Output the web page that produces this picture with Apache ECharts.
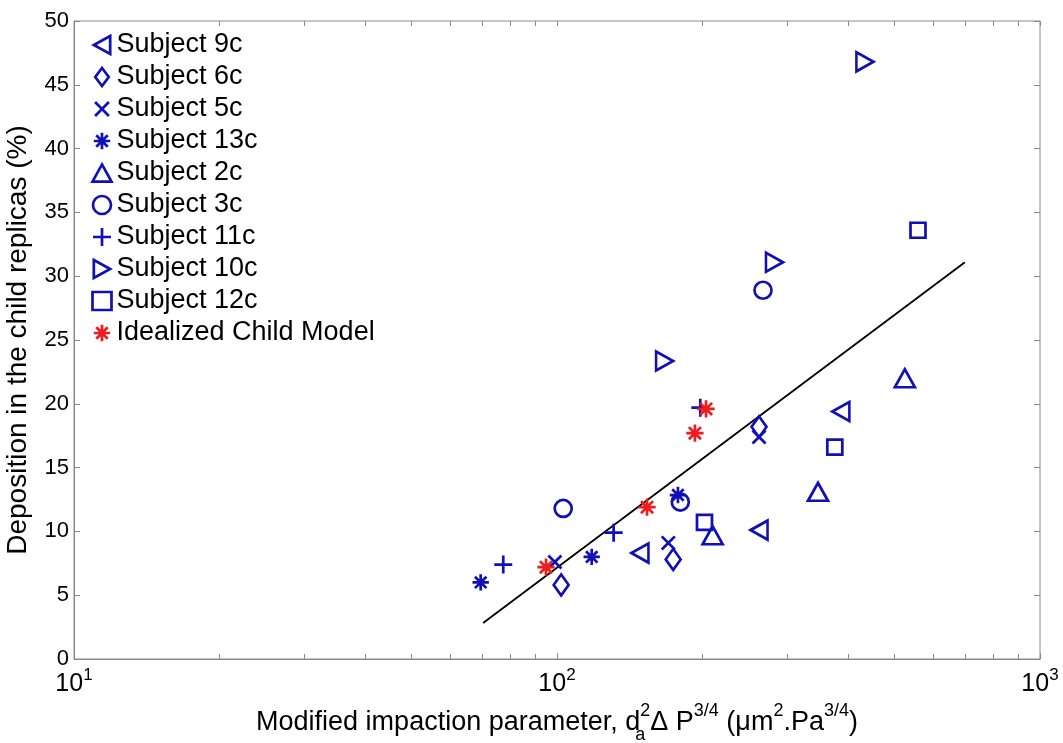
<!DOCTYPE html>
<html>
<head>
<meta charset="utf-8">
<script src="https://cdn.jsdelivr.net/npm/echarts@6/dist/echarts.min.js"></script>
<style>
html,body{margin:0;padding:0;background:#fff;}
#chart{width:1063px;height:743px;}
</style>
</head>
<body>
<div id="chart"></div>
<script>
// ---- data ----
const seriesNames = ['Subject 9c','Subject 6c','Subject 5c','Subject 13c','Subject 2c','Subject 3c','Subject 11c','Subject 10c','Subject 12c','Idealized Child Model'];
const subj9cX = [148.5, 262, 387];   const subj9cY = [8.3, 10.1, 19.4];
const subj6cX = [102, 174, 262];     const subj6cY = [5.8, 7.8, 18.2];
const subj5cX = [99, 170, 262];      const subj5cY = [7.6, 9.1, 17.4];
const subj13cX = [69.5, 118, 178];   const subj13cY = [6.0, 8.0, 12.85];
const subj2cX = [210, 347, 525];     const subj2cY = [9.7, 13.1, 22.0];
const subj3cX = [103, 180, 267];     const subj3cY = [11.8, 12.3, 28.9];
const subj11cX = [77.4, 131, 198];   const subj11cY = [7.4, 9.9, 19.7];
const subj10cX = [167, 282, 434];    const subj10cY = [23.35, 31.1, 46.8];
const subj12cX = [202, 376, 559];    const subj12cY = [10.7, 16.6, 33.6];
const idealX = [94.9, 153.6, 193, 203.5]; const idealY = [7.2, 11.9, 17.7, 19.6];
const fitX = [70.3, 699];            const fitY = [2.82, 31.1];
const xTickValues = [10, 100, 1000];
const xTickExponents = ['1', '2', '3'];
const yTickLabels = ['0','5','10','15','20','25','30','35','40','45','50'];

const pairs = (xs, ys) => xs.map((x, i) => [x, ys[i]]);

const BLUE = '#1010b4';
const RED = '#ee1c1c';
const FONT = '"Liberation Sans", Arial, sans-serif';

const sym = {
  left: 'path://M10,0 L0,5.5 L10,11 Z',
  right: 'path://M0,0 L10,5.5 L0,11 Z',
  up: 'path://M5,0 L10,9 L0,9 Z',
  diamond: 'path://M6,0 L12,8 L6,16 L0,8 Z',
  cross: 'path://M-1.5,-1.5 M0,0 L10,10 M10,0 L0,10 M11.5,11.5',
  star: 'path://M-0.5,-0.5 M5,0 L5,10 M0,5 L10,5 M1.5,1.5 L8.5,8.5 M8.5,1.5 L1.5,8.5 M10.5,10.5',
  plus: 'path://M5,0 L5,10 M0,5 L10,5',
  circle: 'circle',
  square: 'rect'
};

const specs = [
  [subj9cX, subj9cY, sym.left, [17, 19], BLUE],
  [subj6cX, subj6cY, sym.diamond, [15, 21], BLUE],
  [subj5cX, subj5cY, sym.cross, [17, 17], BLUE],
  [subj13cX, subj13cY, sym.star, [18, 18], BLUE],
  [subj2cX, subj2cY, sym.up, [20, 18], BLUE],
  [subj3cX, subj3cY, sym.circle, [17, 17], BLUE],
  [subj11cX, subj11cY, sym.plus, [18, 18], BLUE],
  [subj10cX, subj10cY, sym.right, [17, 19], BLUE],
  [subj12cX, subj12cY, sym.square, [15, 15], BLUE],
  [idealX, idealY, sym.star, [19, 19], RED]
];

const minorTicks = [];
for (let d = 10; d < 1000; d *= 10) for (let k = 2; k <= 9; k++) minorTicks.push(d * k);

const series = specs.map((s, i) => ({
  name: seriesNames[i],
  type: 'scatter',
  data: pairs(s[0], s[1]),
  symbol: s[2],
  symbolSize: s[3],
  itemStyle: { color: 'none', borderColor: s[4], borderWidth: 2.7, opacity: 1 },
  emphasis: { disabled: true },
  z: 3
}));
series.push({
  name: 'fit',
  type: 'line',
  data: pairs(fitX, fitY),
  symbol: 'none',
  lineStyle: { color: '#000', width: 1.8 },
  emphasis: { disabled: true },
  z: 2
});

const chart = echarts.init(document.getElementById('chart'), null, { renderer: 'canvas' });
chart.setOption({
  animation: false,
  backgroundColor: '#fff',
  textStyle: { fontFamily: FONT },
  grid: { left: 74, right: 23, top: 21, bottom: 84, show: true, borderColor: '#8a8a8a', borderWidth: 1, containLabel: false, outerBoundsMode: 'none' },
  legend: {
    data: seriesNames,
    orient: 'vertical',
    left: 85,
    top: 26,
    itemWidth: 19,
    itemHeight: 18,
    itemGap: 4,
    textStyle: { fontFamily: FONT, fontSize: 27, color: '#000', lineHeight: 28 },
    itemStyle: { borderWidth: 'inherit' },
    selectedMode: false
  },
  xAxis: [
    {
      type: 'log', logBase: 10, min: 10, max: 1000,
      position: 'bottom',
      axisLine: { show: true, lineStyle: { color: '#8a8a8a', width: 1 } },
      axisTick: { show: true, inside: true, length: 6, lineStyle: { color: '#8a8a8a' } },
      splitLine: { show: false },
      axisLabel: {
        margin: 8,
        formatter: v => {
          const i = xTickValues.indexOf(Math.round(v));
          return i < 0 ? '' : '{b|10}{s|' + xTickExponents[i] + '}';
        },
        rich: {
          b: { fontFamily: FONT, fontSize: 25, color: '#000', lineHeight: 30, verticalAlign: 'bottom' },
          s: { fontFamily: FONT, fontSize: 17, color: '#000', lineHeight: 30, verticalAlign: 'top' }
        }
      },
      name: '{t|Modified impaction parameter, d}{sub|a}{sup|2}{t|Δ P}{sup|3/4}{t| (μm}{sup|2}{t|.Pa}{sup|3/4}{t|)}',
      nameLocation: 'middle',
      nameGap: 35,
      nameTextStyle: {
        rich: {
          t: { fontFamily: FONT, fontSize: 27, color: '#000', lineHeight: 42, verticalAlign: 'middle' },
          sup: { fontFamily: FONT, fontSize: 18, color: '#000', lineHeight: 42, verticalAlign: 'top' },
          sub: { fontFamily: FONT, fontSize: 18, color: '#000', lineHeight: 42, verticalAlign: 'bottom', width: 0 }
        }
      }
    },
    {
      type: 'log', logBase: 10, min: 10, max: 1000,
      position: 'bottom',
      axisLine: { show: false },
      axisTick: { show: true, inside: true, length: 5, customValues: minorTicks, lineStyle: { color: '#8a8a8a' } },
      axisLabel: { show: false },
      splitLine: { show: false }
    },
    {
      type: 'log', logBase: 10, min: 10, max: 1000,
      position: 'top',
      axisLine: { show: false },
      axisTick: { show: true, inside: true, length: 5, customValues: minorTicks.concat(xTickValues), lineStyle: { color: '#8a8a8a' } },
      axisLabel: { show: false },
      splitLine: { show: false }
    }
  ],
  yAxis: [
    {
      type: 'value', min: 0, max: 50, interval: 5,
      position: 'left',
      axisLine: { show: true, lineStyle: { color: '#8a8a8a', width: 1 } },
      axisTick: { show: true, inside: true, length: 6, lineStyle: { color: '#8a8a8a' } },
      splitLine: { show: false },
      axisLabel: {
        margin: 5,
        fontFamily: FONT, fontSize: 22, color: '#000',
        formatter: v => yTickLabels[Math.round(v / 5)]
      },
      name: 'Deposition in the child replicas (%)',
      nameLocation: 'middle',
      nameGap: 42,
      nameTextStyle: { fontFamily: FONT, fontSize: 28, color: '#000' }
    },
    {
      type: 'value', min: 0, max: 50, interval: 5,
      position: 'right',
      axisLine: { show: false },
      axisTick: { show: true, inside: true, length: 6, lineStyle: { color: '#8a8a8a' } },
      axisLabel: { show: false },
      splitLine: { show: false }
    }
  ],
  series: series
});
</script>
</body>
</html>
